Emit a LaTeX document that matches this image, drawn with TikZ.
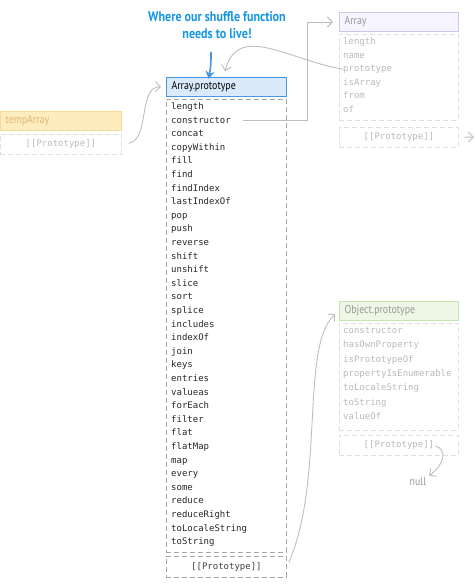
\documentclass[tikz,border=0pt]{standalone}
\usepackage{fontspec}
\setmonofont{DejaVu Sans Mono}
\newfontfamily\narrowsans[FakeStretch=0.86]{PT Sans}
\usepackage{xcolor}
\usetikzlibrary{arrows.meta,positioning}
\definecolor{notebluetext}{RGB}{20,150,230}
\definecolor{apblue}{RGB}{70,150,225}
\definecolor{apbluefill}{RGB}{218,234,250}
\definecolor{tempfill}{RGB}{253,236,190}
\definecolor{templine}{RGB}{246,218,150}
\definecolor{temptext}{RGB}{225,180,110}
\definecolor{arrline}{RGB}{205,198,242}
\definecolor{arrfill}{RGB}{246,244,255}
\definecolor{objline}{RGB}{196,228,176}
\definecolor{objfill}{RGB}{238,247,230}
\definecolor{fadetext}{RGB}{185,185,185}
\definecolor{linkgray}{RGB}{190,190,190}

\tikzset{
  hdr/.style={anchor=north west,line width=1pt,minimum height=19pt,
    inner xsep=5pt,inner ysep=0pt,text width=110pt,align=left,
    font=\narrowsans\fontsize{11.5}{12}\selectfont},
  bodybox/.style={anchor=north west,draw=#1,dash pattern=on 5pt off 3pt,
    line width=0.8pt,minimum width=120pt,inner sep=0pt},
  item/.style={anchor=west,inner sep=0pt,text height=7pt,text depth=2pt,
    font=\ttfamily\fontsize{9}{10}\selectfont},
  link/.style={draw=linkgray,line width=0.9pt,
    -{Straight Barb[length=5pt,width=10pt]}},
}

\begin{document}
\begin{tikzpicture}[x=1pt,y=-1pt]
  \useasboundingbox (0,0) rectangle (474,588);

  % note on top
  \node[font=\narrowsans\bfseries\fontsize{14}{16.5}\selectfont,text=notebluetext,
        align=center] (note) at (217,25) {Where our shuffle function\\needs to live!};

  % Array.prototype
  \node[hdr,draw=apblue,fill=apbluefill] (apHead) at (166,77) {Array.prototype};
  \node[bodybox=black!35,minimum height=453pt] (apBody) at (166,99) {};
  \foreach \name [count=\i from 0] in {length,constructor,concat,copyWithin,fill,
      find,findIndex,lastIndexOf,pop,push,reverse,shift,unshift,slice,sort,splice,
      includes,indexOf,join,keys,entries,valueas,forEach,filter,flat,flatMap,map,
      every,some,reduce,reduceRight,toLocaleString,toString}
    \node[item,text=black!85] (ap-\i) at (171,{107+13.6*\i}) {\name};
  \node[bodybox=black!35,minimum height=21pt] (apProto) at (166,556) {};
  \node[item,anchor=center,text=black!75] (apProtoTxt) at (apProto) {[[Prototype]]};

  % tempArray
  \node[hdr,draw=templine,fill=tempfill,text=temptext,text width=111pt] (tempHead) at (0,111) {tempArray};
  \node[bodybox=black!12,minimum width=121pt,minimum height=20pt] (tempProto) at (0,134) {};
  \node[item,anchor=center,text=fadetext] (tempProtoTxt) at (tempProto) {[[Prototype]]};

  % Array
  \node[hdr,draw=arrline,fill=arrfill,text=black!40,text width=109pt] (arrHead) at (339,12) {Array};
  \node[bodybox=black!12,minimum width=119pt,minimum height=86pt] (arrBody) at (339,34) {};
  \foreach \name [count=\i from 0] in {length,name,prototype,isArray,from,of}
    \node[item,text=fadetext] (arr-\i) at (343,{42+13.6*\i}) {\name};
  \node[bodybox=black!12,minimum width=119pt,minimum height=20pt] (arrProto) at (339,127) {};
  \node[item,anchor=center,text=fadetext] (arrProtoTxt) at (arrProto) {[[Prototype]]};
  \coordinate (offRight) at (474,137);

  % Object.prototype
  \node[hdr,draw=objline,fill=objfill,text=black!40,text width=109pt] (objHead) at (339,301) {Object.prototype};
  \node[bodybox=black!12,minimum width=119pt,minimum height=107pt] (objBody) at (339,323) {};
  \foreach \name [count=\i from 0] in {constructor,hasOwnProperty,isPrototypeOf,
      propertyIsEnumerable,toLocaleString,toString,valueOf}
    \node[item,text=fadetext] (obj-\i) at (343,{331+14.3*\i}) {\name};
  \node[bodybox=black!12,minimum width=119pt,minimum height=20pt] (objProto) at (339,435) {};
  \node[item,anchor=center,text=fadetext] (objProtoTxt) at (objProto) {[[Prototype]]};
  \node[font=\narrowsans\fontsize{11.5}{12}\selectfont,text=black!40,inner sep=1pt] (nullTxt) at (418,482) {null};
  \coordinate (turn) at (307,0);

  % links
  \draw[line width=1.6pt,draw=apblue,-{Stealth[length=8pt,width=9pt]}]
    ([xshift=-6pt,yshift=-10pt]note.south) to[bend left=6] ([xshift=-18pt,yshift=-2pt]apHead.north);
  \draw[link,shorten <=7pt,shorten >=5pt] (tempProto.east)
    .. controls (150,140) and (138,86) .. (apHead.west);
  \draw[link,shorten <=12pt,shorten >=6pt] (ap-1.east) -- (ap-1.east -| turn) |- (arrHead.west);
  \draw[link,shorten >=6pt] (arr-2.west)
    .. controls (288,60) and (238,22) .. ([xshift=-3pt]apHead.north);
  \draw[link,shorten <=5pt] (arrProto.east) -- (offRight);
  \draw[link,shorten <=5pt,shorten >=5pt] (apProto.east)
    .. controls (325,480) and (300,345) .. (objHead.west);
  \draw[link,shorten <=1pt,shorten >=2pt] (objProtoTxt.east)
    .. controls (448,450) and (444,465) .. (nullTxt.north east);
\end{tikzpicture}
\end{document}
